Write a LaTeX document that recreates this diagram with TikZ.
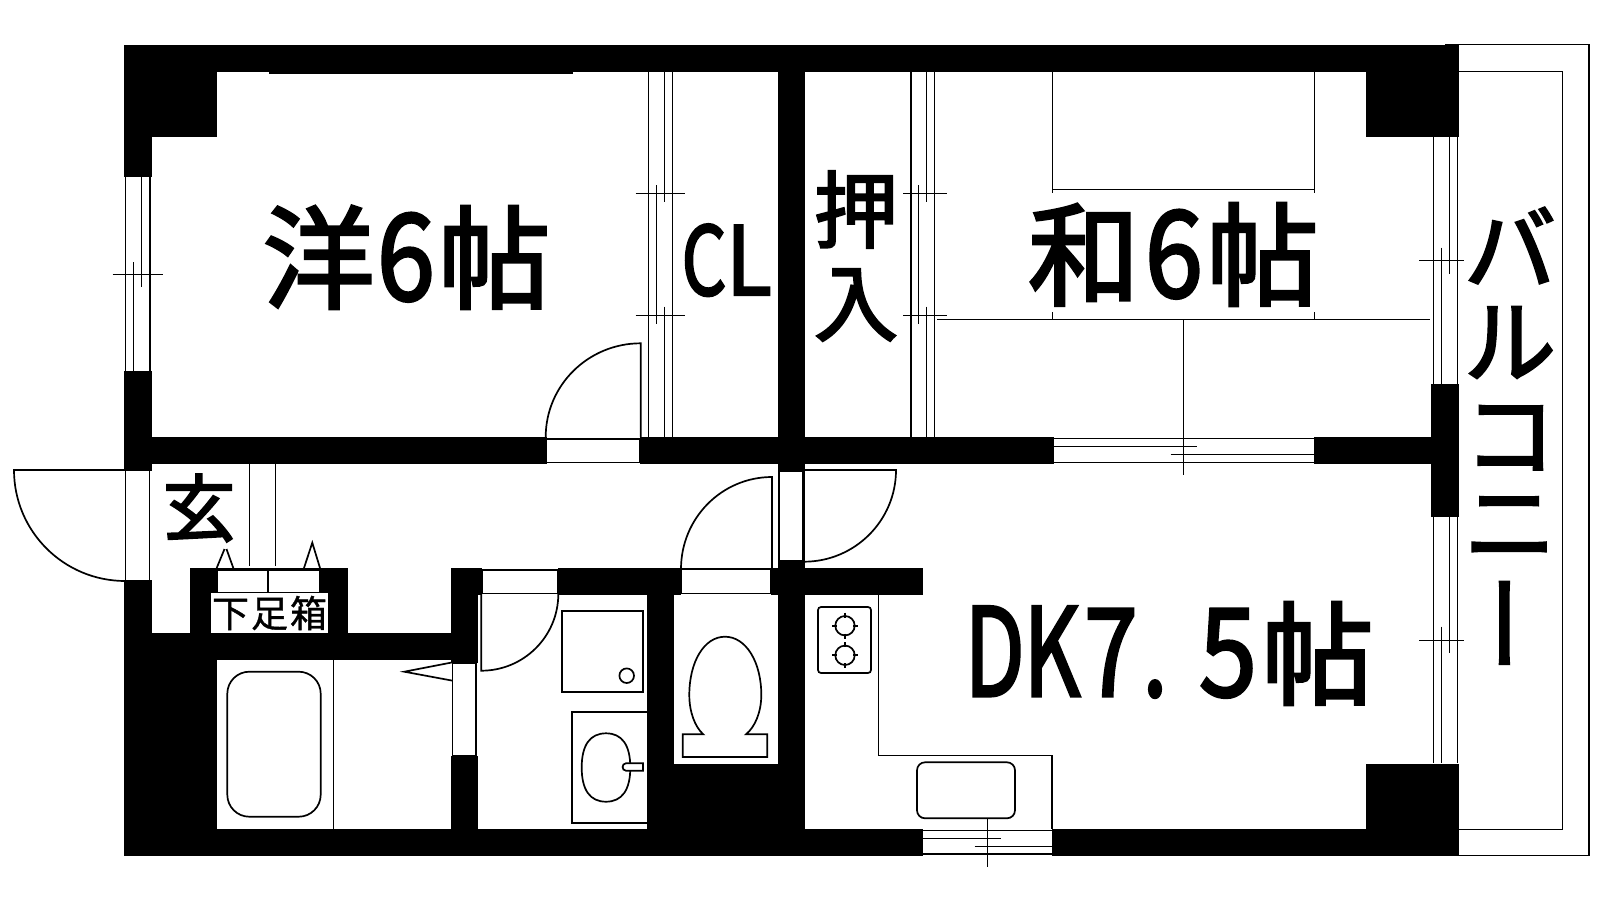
\documentclass[tikz,border=0pt]{standalone}
\usepackage{fontspec}
\usepackage{graphicx}
\setmainfont{Noto Sans CJK JP}
\newfontfamily\jpm[FakeBold=2.6]{Noto Sans CJK JP}
\newfontfamily\jpl[FakeBold=1]{Noto Sans CJK JP}
\newcommand\gl[2]{\rlap{\hspace*{#1pt}\makebox[0pt][c]{#2}}}
\tikzset{
  wall/.style={fill=black,draw=none},
  thin line/.style={draw=black,line width=1.5pt},
  fixture/.style={draw=black,line width=1.7pt},
  label/.style={inner sep=0pt,outer sep=0pt,text=black},
}
\begin{document}
\begin{tikzpicture}[x=1pt,y=-1pt]
\useasboundingbox (0,0) rectangle (1600,900);
\fill[white] (0,0) rectangle (1600,900);
% balcony
\draw[thin line] (1444.7,855.7) -- (1589,855.7) -- (1589,44.3) -- (1444.7,44.3);
\draw[thin line] (1459,71.3) -- (1562.7,71.3) -- (1562.7,829.7) -- (1459,829.7);
% walls
\foreach \a/\b/\c/\d in {124/45/1459/72, 269/72/573/73.5, 124/45/217/137, 124/45/152/177,
  124/371/152/471, 124/580/152/856, 124/437/546.7/464, 640/437/1054/464, 1313.7/437/1431/464,
  778/45/805/471, 778/561/805/856, 1366/45/1459/137, 1431/384/1459/517, 1366/764/1459/856,
  770.7/568/923/595, 558/568/681.3/595, 451/568/482/595, 451/568/478/663, 451/756/478/856,
  647/568/674/856, 647/764/805/856, 190/568/348/633, 124/633/451/660, 124/633/217/856,
  124/829/923/856, 1051.7/829/1459/856}
  {\fill[wall] (\a,\b) rectangle (\c,\d);}
% left window
\draw[thin line] (125.3,177) -- (125.3,371) (150,177) -- (150,371) (133.3,262) -- (133.3,371) (141.3,177) -- (141.3,287) (112.7,274.3) -- (163.3,274.3);
% closet doors
\draw[thin line] (648.7,72) -- (648.7,437) (672.7,72) -- (672.7,437) (664.7,72) -- (664.7,202) (664.7,306.7) -- (664.7,437) (656.7,185) -- (656.7,324) (635.7,193.3) -- (685.3,193.3) (635.7,315.3) -- (685.3,315.3);
\draw[thin line] (911,72) -- (911,437) (934.3,72) -- (934.3,437) (926.7,72) -- (926.7,202) (926.7,306.7) -- (926.7,437) (918.3,185) -- (918.3,324) (903,193.3) -- (947.3,193.3) (903,315.3) -- (947.3,315.3);
% right windows
\draw[thin line] (1433.3,137) -- (1433.3,384) (1457.7,137) -- (1457.7,384) (1449.7,137) -- (1449.7,274.3) (1441.3,247.7) -- (1441.3,384) (1419.3,260.3) -- (1464,260.3);
\draw[thin line] (1433.3,517) -- (1433.3,763) (1457.7,517) -- (1457.7,763) (1449.7,517) -- (1449.7,653.3) (1441.3,626.7) -- (1441.3,763) (1419.3,640.3) -- (1464,640.3);
% washitsu window and tatami
\draw[thin line] (1054,438.3) -- (1313.7,438.3) (1054,462.3) -- (1313.7,462.3) (1054,446.3) -- (1196.7,446.3) (1170.7,454.3) -- (1313.7,454.3) (1183.3,319.3) -- (1183.3,475);
\draw[thin line] (1052.7,72) -- (1052.7,193) (1314.7,72) -- (1314.7,193) (1052.7,189.3) -- (1314.7,189.3) (937.3,319.3) -- (1430,319.3) (1052.7,312) -- (1052.7,319.3) (1314.7,312) -- (1314.7,319.3);
% kitchen window
\draw[thin line] (923,830.7) -- (1051.7,830.7) (923,854) -- (1051.7,854) (923,838.3) -- (1000.7,838.3) (974.7,846.7) -- (1051.7,846.7) (987.3,818.3) -- (987.3,867.3);
% entry door
\draw[thin line] (125.3,471) -- (125.3,580) (149.3,471) -- (149.3,580);
\draw[fixture] (125.3,470) -- (14,470) .. controls (14,531.3) and (63.7,581) .. (125.3,581);
% genkan
\draw[thin line] (249.3,464) -- (249.3,565.7) (275.7,464) -- (275.7,565.7);
\draw[fixture] (216.7,568) -- (224.5,549) (226.5,549) -- (233.3,568) (304,568) -- (312.3,542.7) -- (320,568);
\draw[thin line,fill=white] (217,570) rectangle (319.5,593);
\draw[thin line] (268,570) -- (268,593);
\node[fill=white,inner sep=0pt,minimum width=117pt,minimum height=40pt,font=\jpl\fontsize{37}{37}\selectfont] (geta) at (269.5,613) {\makebox[39pt]{下}\makebox[39pt]{足}\makebox[39pt]{箱}};
% bath
\draw[thin line] (333.7,660) -- (333.7,829);
\draw[fixture,rounded corners=22pt] (227.3,671.7) rectangle (320.7,816.7);
\draw[thin line] (452.7,663.3) rectangle (476,756);
\draw[fixture] (452.7,662.3) -- (404.3,671.7) -- (452.7,680.7);
% wash room door
\draw[thin line] (482,570) rectangle (558,593.3);
\draw[fixture] (481.3,594) -- (481.3,670.7) .. controls (523.8,670.7) and (558.3,636.4) .. (558.3,594);
% washing pan
\draw[fixture] (561.7,610.7) rectangle (643,692);
\draw[fixture] (626.7,675.7) circle[radius=7.3pt];
% basin
\draw[fixture] (647,711.7) -- (571.7,711.7) -- (571.7,822.7) -- (647,822.7);
\draw[fixture] (581.7,767.5) .. controls (581.7,745) and (590,733.3) .. (606,733.3) .. controls (622,733.3) and (630.3,745) .. (630.3,767.5) .. controls (630.3,790) and (622,801.7) .. (606,801.7) .. controls (590,801.7) and (581.7,790) .. (581.7,767.5) -- cycle;
\draw[fixture,fill=white] (643,763.3) -- (626,763.3) .. controls (621.5,763.3) and (621.5,770.7) .. (626,770.7) -- (643,770.7) -- cycle;
% toilet
\draw[thin line] (681.3,569) rectangle (770.7,593.7);
\draw[fixture] (772,569) -- (772,477) .. controls (721.7,477) and (681,518.2) .. (681,569);
\draw[fixture] (703.3,734.3) .. controls (695,727) and (689.3,712) .. (689.3,695) .. controls (689.3,662) and (704,636.7) .. (725,636.7) .. controls (746,636.7) and (761.3,662) .. (761.3,695) .. controls (761.3,712) and (755,727) .. (746,734.3) -- (767.3,734.3) -- (767.3,757) -- (682.7,757) -- (682.7,734.3) -- cycle;
% dk door
\draw[thin line] (779,471) rectangle (803,561);
\draw[fixture] (804,561.7) -- (804,470) -- (896,470) .. controls (896,520.6) and (854.8,561.7) .. (804,561.7);
% western room door
\draw[thin line] (546.7,439) rectangle (639.3,462.3);
\draw[fixture] (640.7,437) -- (640.7,343.3) .. controls (588.2,343.3) and (545.7,385.3) .. (545.7,437);
% kitchen counter
\draw[thin line] (878.7,595) -- (878.7,755.3) -- (1052,755.3) -- (1052,829);
\draw[fixture,rounded corners=3pt] (818,607) rectangle (871,673);
\foreach \cy in {625.7,655.3}{
  \draw[fixture] (845,\cy) circle[radius=9.7pt];
  \draw[fixture] (845,\cy-13) -- (845,\cy-8) (845,\cy+8) -- (845,\cy+13) (832,\cy) -- (837,\cy) (853,\cy) -- (858,\cy);
}
\draw[fixture,rounded corners=8pt] (917,762.3) rectangle (1015,818.3);
% labels
\node[label,anchor=base west,font=\jpm\fontsize{112}{112}\selectfont] (yo) at (263,300) {\makebox[287pt][l]{\gl{55.7}{洋}\gl{143}{\raisebox{-0pt}{\scalebox{0.93}[1.07]{6}}}\gl{231.3}{帖}}};
\node[label,anchor=base west,font=\jpm\fontsize{112}{112}\selectfont] (wa) at (1029,297) {\makebox[290pt][l]{\gl{55}{和}\gl{145}{\scalebox{0.93}[1.07]{6}}\gl{233.5}{帖}}};
\node[label,anchor=base west,font=\jpm\fontsize{112}{112}\selectfont] (dk) at (966,696) {\makebox[408pt][l]{\gl{28.7}{\scalebox{0.78}[1.09]{D}}\gl{86}{\scalebox{0.78}[1.09]{K}}\gl{144.8}{\scalebox{0.86}[1.09]{7}}\gl{189}{\scalebox{0.8}[1.09]{.}}\gl{262}{\scalebox{0.93}[1.09]{5}}\gl{351.5}{帖}}};
\node[label,anchor=base west,font=\jpm\fontsize{95}{95}\selectfont] (cl) at (685,295) {\makebox[84pt][l]{\gl{19}{\scalebox{0.74}[1]{C}}\gl{64}{\scalebox{0.88}[1]{L}}}};
\node[label,align=center,font=\jpm\fontsize{84}{93}\selectfont] (oshi) at (856,256) {押\\入};
\node[label,font=\jpm\fontsize{73}{73}\selectfont] (gen) at (199,508) {玄};
\node[label,align=center,font=\jpm\fontsize{92}{93}\selectfont] (bal) at (1510,441) {バ\\ル\\コ\\[-5pt]ニ\\[-7pt]\hspace*{-42pt}\rotatebox[origin=c]{-90}{\scalebox{1.12}[1]{ー}}};
\end{tikzpicture}
\end{document}
